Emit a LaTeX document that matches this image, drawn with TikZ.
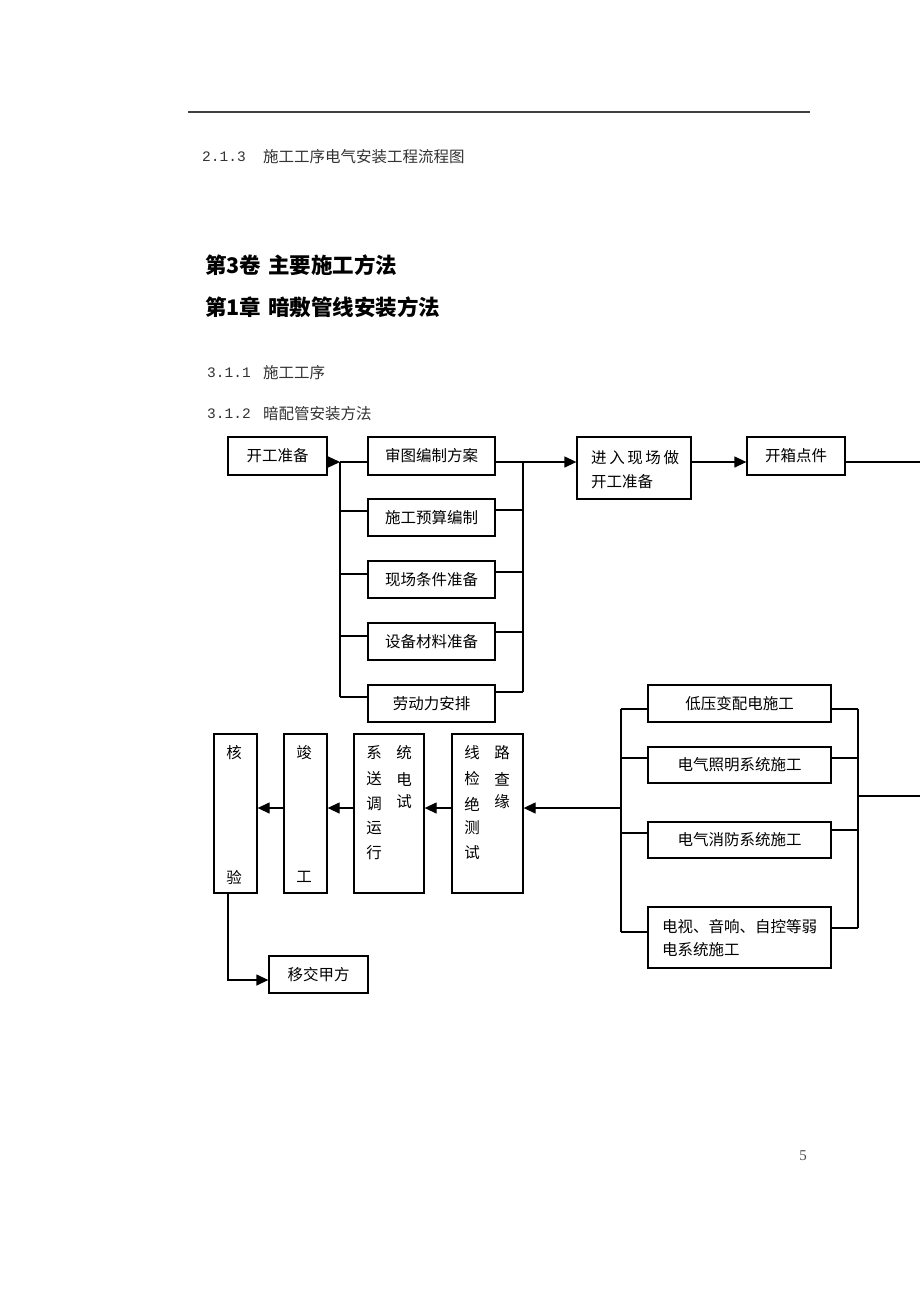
\documentclass[tikz,border=0pt]{standalone}
\usepackage{fontspec}
\newfontfamily\cjk{Noto Sans CJK SC}
\newfontfamily\monof{Liberation Mono}
\newfontfamily\serf{Liberation Serif}
\usetikzlibrary{arrows.meta}
\begin{document}
\begin{tikzpicture}[x=1pt,y=-1pt,
  box/.style={draw, line width=1.3pt, inner sep=0pt, font=\cjk\fontsize{15.5}{19}\selectfont},
  ln/.style={line width=1.3pt},
  arr/.style={line width=1.3pt, -{Triangle[length=12pt,width=11pt]}},
  txt/.style={inner sep=0pt, font=\cjk\fontsize{15.5}{19}\selectfont},
  num/.style={inner sep=0pt, font=\monof\fontsize{14.5}{17}\selectfont, text=black!80},
  head/.style={inner sep=0pt, font=\cjk\bfseries\fontsize{21.5}{25}\selectfont},
]
\useasboundingbox[fill=white] (0,0) rectangle (920,1302);

% header rule
\coordinate (r1) at (188,112);
\coordinate (r2) at (810,112);
\draw[line width=1.5pt, black!75] (r1) -- (r2);

% headings
\node[num, anchor=west] (n213) at (202,157) {2.1.3};
\node[txt, anchor=west, text=black!80] (t213) at (263,157) {施工工序电气安装工程流程图};
\node[head, anchor=west] (h3a) at (205,265) {第3卷};
\node[head, anchor=west] (h3b) at (268,265) {主要施工方法};
\node[head, anchor=west] (h1a) at (205,307) {第1章};
\node[head, anchor=west] (h1b) at (268,307) {暗敷管线安装方法};
\node[num, anchor=west] (n311) at (207,373) {3.1.1};
\node[txt, anchor=west, text=black!80] (t311) at (263,373) {施工工序};
\node[num, anchor=west] (n312) at (207,414) {3.1.2};
\node[txt, anchor=west, text=black!80] (t312) at (263,414) {暗配管安装方法};

% top section boxes
\node[box, minimum width=99pt, minimum height=38pt] (kg) at (277.5,456) {开工准备};
\node[box, minimum width=127pt, minimum height=38pt] (st) at (431.5,456) {审图编制方案};
\node[box, minimum width=127pt, minimum height=37pt] (sy) at (431.5,517.5) {施工预算编制};
\node[box, minimum width=127pt, minimum height=37pt] (xc) at (431.5,579.5) {现场条件准备};
\node[box, minimum width=127pt, minimum height=37pt] (sb) at (431.5,641.5) {设备材料准备};
\node[box, minimum width=127pt, minimum height=37pt] (ld) at (431.5,703.5) {劳动力安排};
\node[box, minimum width=114pt, minimum height=62pt] (jr) at (634,468) {};
\node[txt, anchor=west] (jrt1) at (591,458) {进\,入\,现\,场\,做};
\node[txt, anchor=west] (jrt2) at (591,482) {开工准备};
\node[box, minimum width=98pt, minimum height=38pt] (kx) at (796,456) {开箱点件};

% left bus
\coordinate (bl1) at (340,462);
\coordinate (bl2) at (340,511);
\coordinate (bl3) at (340,574);
\coordinate (bl4) at (340,636);
\coordinate (bl5) at (340,697);
\draw[arr] (kg.east |- bl1) -- (bl1);
\draw[ln] (bl1) -- (bl5);
\draw[ln] (bl1) -- (bl1 -| st.west);
\draw[ln] (bl2) -- (bl2 -| sy.west);
\draw[ln] (bl3) -- (bl3 -| xc.west);
\draw[ln] (bl4) -- (bl4 -| sb.west);
\draw[ln] (bl5) -- (bl5 -| ld.west);

% right bus
\coordinate (br1) at (523,462);
\coordinate (br2) at (523,510);
\coordinate (br3) at (523,572);
\coordinate (br4) at (523,632);
\coordinate (br5) at (523,692);
\draw[ln] (br1) -- (br5);
\draw[ln] (br1 -| st.east) -- (br1);
\draw[ln] (br2 -| sy.east) -- (br2);
\draw[ln] (br3 -| xc.east) -- (br3);
\draw[ln] (br4 -| sb.east) -- (br4);
\draw[ln] (br5 -| ld.east) -- (br5);
\draw[arr] (br1) -- (br1 -| jr.west);
\draw[arr] (jr.east |- br1) -- (kx.west |- br1);
\coordinate (e1) at (920,462);
\draw[ln] (kx.east |- e1) -- (e1);

% lower right boxes
\node[box, minimum width=183pt, minimum height=37pt] (dy) at (739.5,703.5) {低压变配电施工};
\node[box, minimum width=183pt, minimum height=36pt] (zm) at (739.5,765) {电气照明系统施工};
\node[box, minimum width=183pt, minimum height=36pt] (xf) at (739.5,840) {电气消防系统施工};
\node[box, minimum width=183pt, minimum height=61pt] (ds) at (739.5,937.5) {};
\node[txt, anchor=west] (dst1) at (662,927) {电视、音响、自控等弱};
\node[txt, anchor=west] (dst2) at (662,950) {电系统施工};

\coordinate (cl1) at (621,709);
\coordinate (cl2) at (621,758);
\coordinate (cl3) at (621,833);
\coordinate (cl4) at (621,932);
\coordinate (cm) at (621,808);
\draw[ln] (cl1) -- (cl4);
\draw[ln] (cl1) -- (cl1 -| dy.west);
\draw[ln] (cl2) -- (cl2 -| zm.west);
\draw[ln] (cl3) -- (cl3 -| xf.west);
\draw[ln] (cl4) -- (cl4 -| ds.west);

\coordinate (cr1) at (858,709);
\coordinate (cr2) at (858,758);
\coordinate (cr3) at (858,830);
\coordinate (cr4) at (858,928);
\coordinate (e2) at (920,796);
\draw[ln] (cr1) -- (cr4);
\draw[ln] (cr1 -| dy.east) -- (cr1);
\draw[ln] (cr2 -| zm.east) -- (cr2);
\draw[ln] (cr3 -| xf.east) -- (cr3);
\draw[ln] (cr4 -| ds.east) -- (cr4);
\draw[ln] (e2 -| cr1) -- (e2);

% vertical boxes
\node[box, minimum width=43pt, minimum height=159pt] (hy) at (235.5,813.5) {};
\node[box, minimum width=43pt, minimum height=159pt] (jg) at (305.5,813.5) {};
\node[box, minimum width=70pt, minimum height=159pt] (xt) at (389,813.5) {};
\node[box, minimum width=71pt, minimum height=159pt] (xl) at (487.5,813.5) {};

\node[txt] (hy1) at (234,753) {核};
\node[txt] (hy2) at (234,877) {验};
\node[txt] (jg1) at (304,753) {竣};
\node[txt] (jg2) at (304,877) {工};

\node[txt] (xt1) at (374,753) {系};
\node[txt] (xt2) at (404,753) {统};
\node[txt] (xt3) at (374,779) {送};
\node[txt] (xt4) at (404,779) {电};
\node[txt] (xt5) at (374,804) {调};
\node[txt] (xt6) at (404,802) {试};
\node[txt] (xt7) at (374,828) {运};
\node[txt] (xt8) at (374,853) {行};

\node[txt] (xl1) at (472,753) {线};
\node[txt] (xl2) at (502,753) {路};
\node[txt] (xl3) at (472,779) {检};
\node[txt] (xl4) at (502,779) {查};
\node[txt] (xl5) at (472,804) {绝};
\node[txt] (xl6) at (502,802) {缘};
\node[txt] (xl7) at (472,828) {测};
\node[txt] (xl8) at (472,853) {试};

\draw[arr] (cm) -- (cm -| xl.east);
\draw[arr] (xl.west |- cm) -- (xt.east |- cm);
\draw[arr] (xt.west |- cm) -- (jg.east |- cm);
\draw[arr] (jg.west |- cm) -- (hy.east |- cm);

\node[box, minimum width=99pt, minimum height=37pt] (yj) at (318.5,974.5) {移交甲方};
\coordinate (hb) at (228,980);
\draw[arr] (hy.south -| hb) -- (hb) -- (hb -| yj.west);

% page number
\node[inner sep=0pt, font=\serf\fontsize{15}{18}\selectfont, text=black!70] (pg) at (803,1156) {5};
\end{tikzpicture}
\end{document}
